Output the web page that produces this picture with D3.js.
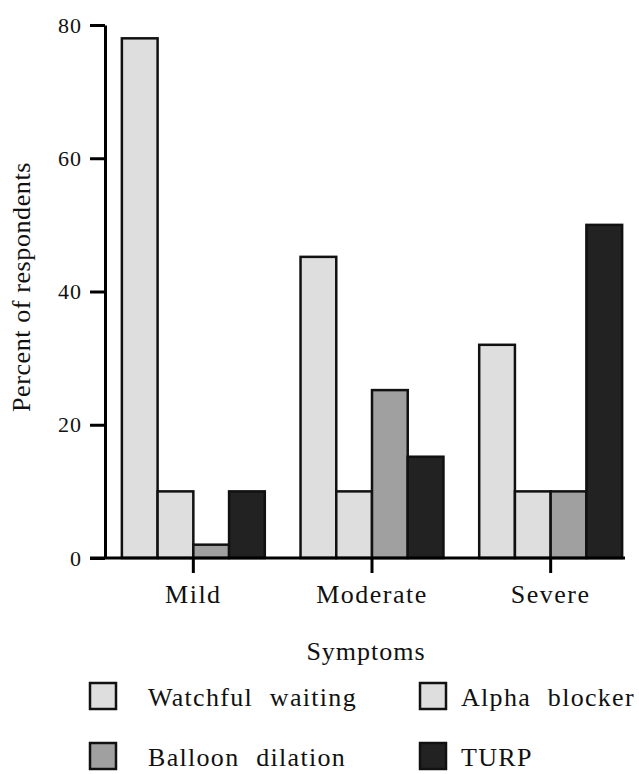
<!DOCTYPE html>
<html>
<head>
<meta charset="utf-8">
<script src="https://cdn.jsdelivr.net/npm/d3@7"></script>
<style>
  body { margin: 0; background: #fff; }
  text { font-family: "Liberation Serif", "Times New Roman", serif; fill: #111; }
</style>
</head>
<body>
<div id="chart"></div>
<script>
const categories = ['Mild', 'Moderate', 'Severe'];
const seriesNames = ['Watchful waiting', 'Alpha blocker', 'Balloon dilation', 'TURP'];
const watchful = [78, 45.2, 32];
const alpha = [10, 10, 10];
const balloon = [2, 25.2, 10];
const turp = [10, 15.2, 50];
const yTicks = [0, 20, 40, 60, 80];
const seriesColors = ['#dedede', '#dedede', '#a0a0a0', '#222222'];

const width = 639, height = 774;
const values = [watchful, alpha, balloon, turp];

const svg = d3.select('#chart').append('svg')
    .attr('width', width)
    .attr('height', height);

const y = d3.scaleLinear().domain([0, 80]).range([558, 25]);
const x = d3.scaleBand().domain(categories).range([104, 640]).paddingInner(0.2).paddingOuter(0.1);
const xs = d3.scaleBand().domain(seriesNames).range([0, x.bandwidth()]);
const color = d3.scaleOrdinal().domain(seriesNames).range(seriesColors);

// bars
const groups = svg.append('g')
    .selectAll('g')
    .data(categories)
    .join('g')
    .attr('transform', d => `translate(${x(d)},0)`);

groups.selectAll('rect')
    .data((d, i) => seriesNames.map((s, j) => ({ series: s, value: values[j][i] })))
    .join('rect')
    .attr('x', d => xs(d.series))
    .attr('y', d => y(d.value))
    .attr('width', xs.bandwidth())
    .attr('height', d => y(0) - y(d.value))
    .attr('fill', d => color(d.series))
    .attr('stroke', '#111')
    .attr('stroke-width', 2.5);

// y axis
const yAxis = svg.append('g')
    .attr('transform', 'translate(105,0)')
    .call(d3.axisLeft(y).tickValues(yTicks).tickSize(15).tickSizeOuter(0).tickPadding(8));
yAxis.select('.domain').attr('stroke', '#000').attr('stroke-width', 3);
yAxis.selectAll('.tick line').attr('stroke', '#000').attr('stroke-width', 3);
yAxis.selectAll('.tick text')
    .attr('fill', '#111')
    .style('font-size', '22px')
    .style('font-family', '"Liberation Serif", serif')
    .style('letter-spacing', '1px');

// x axis
const xAxis = svg.append('g')
    .attr('transform', 'translate(0,558)')
    .call(d3.axisBottom(x).tickSize(15).tickSizeOuter(0).tickPadding(12));
xAxis.select('.domain').remove();
xAxis.append('line')
    .attr('x1', 90).attr('x2', 625)
    .attr('stroke', '#000').attr('stroke-width', 3);
xAxis.selectAll('.tick line').attr('stroke', '#000').attr('stroke-width', 3);
xAxis.selectAll('.tick text')
    .attr('fill', '#111')
    .style('font-size', '26px')
    .style('font-family', '"Liberation Serif", serif')
    .style('letter-spacing', '1.5px');

// axis titles
svg.append('text')
    .attr('x', 366).attr('y', 660)
    .attr('text-anchor', 'middle')
    .style('font-size', '26px')
    .style('letter-spacing', '1px')
    .text('Symptoms');

svg.append('text')
    .attr('transform', 'translate(30,287) rotate(-90)')
    .attr('text-anchor', 'middle')
    .style('font-size', '26px')
    .style('letter-spacing', '0.6px')
    .text('Percent of respondents');

// legend
const legendPos = [[90, 683, 58], [420, 683, 41], [90, 743, 58], [420, 743, 41]];
const legend = svg.append('g')
    .selectAll('g')
    .data(seriesNames)
    .join('g')
    .attr('transform', (d, i) => `translate(${legendPos[i][0]},${legendPos[i][1]})`);

legend.append('rect')
    .attr('width', 26).attr('height', 26)
    .attr('fill', d => color(d))
    .attr('stroke', '#111')
    .attr('stroke-width', 2.5);

legend.append('text')
    .attr('x', (d, i) => legendPos[i][2]).attr('y', 23)
    .style('font-size', '26px')
    .style('letter-spacing', '1.3px')
    .style('word-spacing', '9px')
    .text(d => d);
</script>
</body>
</html>
